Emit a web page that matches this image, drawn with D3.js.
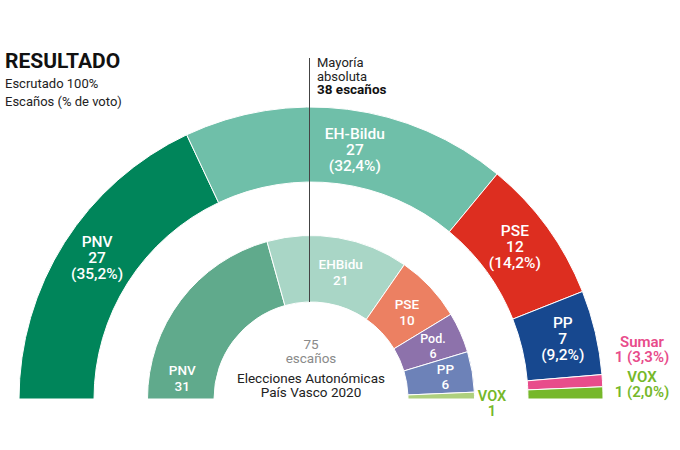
<!DOCTYPE html>
<html>
<head>
<meta charset="utf-8">
<script src="https://cdn.jsdelivr.net/npm/d3@7"></script>
<style>
  html, body { margin: 0; padding: 0; background: #fff; }
  text { font-family: Roboto, "Open Sans", sans-serif; }
</style>
</head>
<body>
<svg width="680" height="450"></svg>
<script>
const outerParties = ['PNV', 'EH-Bildu', 'PSE', 'PP', 'Sumar', 'VOX'];
const outerSeats = [27, 27, 12, 7, 1, 1];
const outerVotes = ['35,2', '32,4', '14,2', '9,2', '3,3', '2,0'];
const outerColors = ['#00855a', '#6fbfa9', '#dd2e20', '#17488f', '#e84c8b', '#76b82a'];

const innerParties = ['PNV', 'EHBidu', 'PSE', 'Pod.', 'PP', 'VOX'];
const innerSeats = [31, 21, 10, 6, 6, 1];
const innerColors = ['#60aa8c', '#a9d6c6', '#ec8062', '#8d72ab', '#6d82b8', '#aed07e'];

const svg = d3.select('svg');
const cx = 311;
const cy = 399;

const pie = d3.pie()
  .sort(null)
  .startAngle(-Math.PI / 2)
  .endAngle(Math.PI / 2);

const outerArc = d3.arc().innerRadius(217).outerRadius(292);
const innerArc = d3.arc().innerRadius(97).outerRadius(163.5);

const g = svg.append('g').attr('transform', `translate(${cx}, ${cy})`);

g.selectAll('path.outer')
  .data(pie(outerSeats))
  .join('path')
  .attr('class', 'outer')
  .attr('d', outerArc)
  .attr('fill', (d, i) => outerColors[i])
  .attr('stroke', '#fff')
  .attr('stroke-width', 1);

g.selectAll('path.inner')
  .data(pie(innerSeats))
  .join('path')
  .attr('class', 'inner')
  .attr('d', innerArc)
  .attr('fill', (d, i) => innerColors[i])
  .attr('stroke', '#fff')
  .attr('stroke-width', 1);

// majority line, from the note down to the inner hole
svg.append('line')
  .attr('x1', cx - 1.5).attr('x2', cx - 1.5)
  .attr('y1', 58).attr('y2', cy - 97)
  .attr('stroke', '#444')
  .attr('stroke-width', 1);

function block(x, y, lines, opts) {
  const t = svg.append('text')
    .attr('x', x)
    .attr('y', y)
    .attr('text-anchor', opts.anchor || 'middle')
    .attr('fill', opts.fill)
    .attr('font-size', opts.size)
    .attr('font-weight', opts.weight || 400);
  lines.forEach((s, i) => {
    t.append('tspan')
      .attr('x', x)
      .attr('dy', i === 0 ? 0 : opts.lead)
      .text(s);
  });
  return t;
}

// labels sit on the arc centroid, nudged where the original does
const outerNudge = [[1, -16], [12, -8], [-2, -13], [4, -13]];
pie(outerSeats).slice(0, 4).forEach((d, i) => {
  const c = outerArc.centroid(d);
  block(cx + c[0] + outerNudge[i][0], cy + c[1] + outerNudge[i][1],
    [outerParties[i], String(outerSeats[i]), `(${outerVotes[i]}%)`],
    { fill: '#fff', size: 15.5, weight: 500, lead: 16 });
});

const innerNudge = [[-25, 55], [8, -2], [1, -1], [3, -3], [6, -3]];
const innerLead = [16, 16.5, 16, 14.5, 15];
pie(innerSeats).slice(0, 5).forEach((d, i) => {
  const c = innerArc.centroid(d);
  block(cx + c[0] + innerNudge[i][0], cy + c[1] + innerNudge[i][1],
    [innerParties[i], String(innerSeats[i])],
    { fill: '#fff', size: i === 3 ? 12.5 : 13.5, weight: 500, lead: innerLead[i] });
});

block(642, 347, [outerParties[4], `${outerSeats[4]} (${outerVotes[4]}%)`],
  { fill: outerColors[4], size: 15, weight: 600, lead: 15 });
block(642, 382, [outerParties[5], `${outerSeats[5]} (${outerVotes[5]}%)`],
  { fill: outerColors[5], size: 15, weight: 600, lead: 15 });
block(492, 401, [innerParties[5], String(innerSeats[5])],
  { fill: outerColors[5], size: 14.5, weight: 600, lead: 15 });

block(5, 68, ['RESULTADO'], { anchor: 'start', fill: '#111', size: 21, weight: 700 });
block(5, 88, ['Escrutado 100%'], { anchor: 'start', fill: '#222', size: 13 });
block(5, 106, ['Escaños (% de voto)'], { anchor: 'start', fill: '#222', size: 13 });

block(317, 67, ['Mayoría', 'absoluta'], { anchor: 'start', fill: '#222', size: 13, lead: 13.5 });
block(317, 94, ['38 escaños'], { anchor: 'start', fill: '#111', size: 13.5, weight: 700 });

block(311, 349, ['75', 'escaños'], { fill: '#8a8a8a', size: 13.5, lead: 14 });
block(311, 383, ['Elecciones Autonómicas', 'País Vasco 2020'], { fill: '#222', size: 13.5, lead: 14 });
</script>
</body>
</html>
